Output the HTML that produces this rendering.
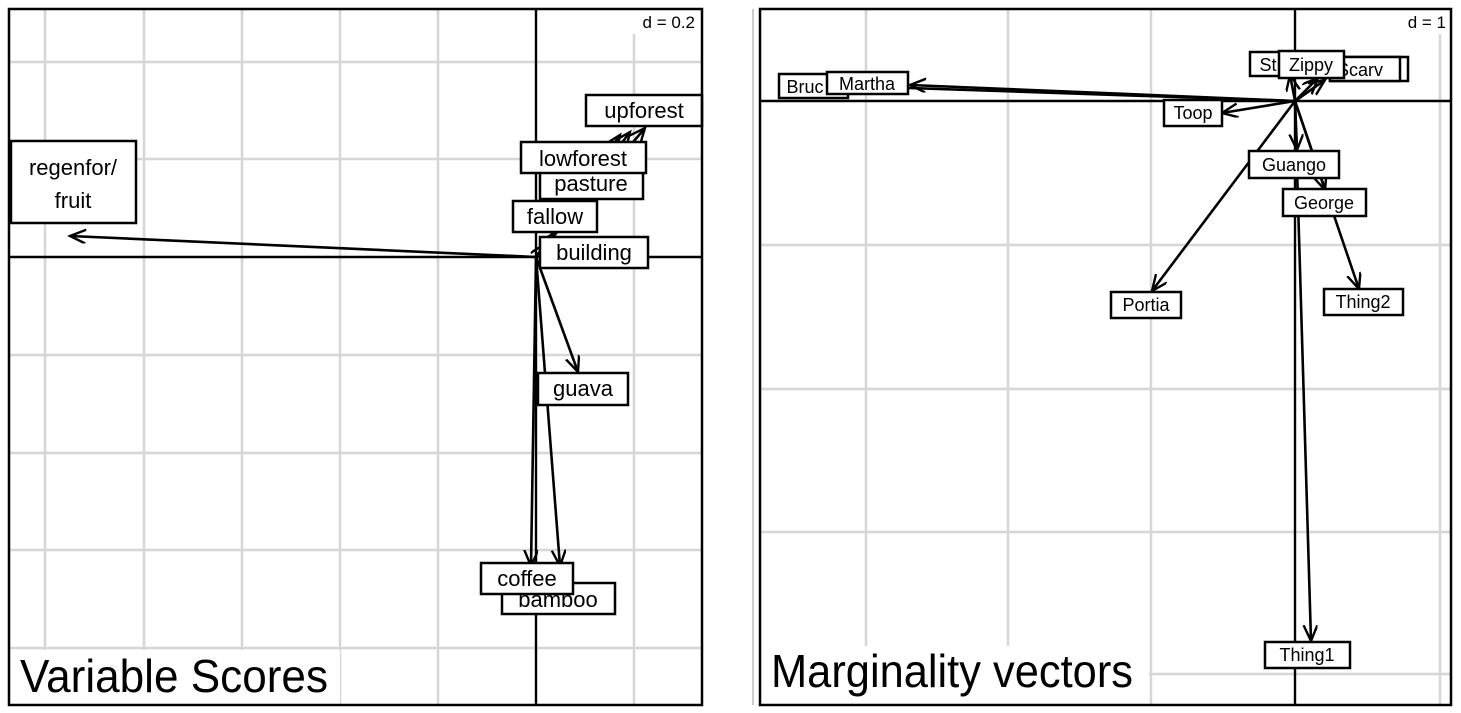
<!DOCTYPE html>
<html><head><meta charset="utf-8"><style>
html,body{margin:0;padding:0;background:#fff;}
svg{display:block;}
</style></head><body>
<svg width="1461" height="713" viewBox="0 0 1461 713" xmlns="http://www.w3.org/2000/svg">
<defs>
<marker id="ah" markerUnits="userSpaceOnUse" markerWidth="20" markerHeight="20" refX="16" refY="7" orient="auto">
<path d="M0,0 L16,7 L0,14" fill="none" stroke="#000" stroke-width="2.4"/>
</marker>
</defs>
<rect width="1461" height="713" fill="#fff"/>
<!-- LEFT PANEL -->
<g stroke="#d6d6d6" stroke-width="2.5">
<line x1="45" y1="9" x2="45" y2="704"/><line x1="144" y1="9" x2="144" y2="704"/><line x1="242" y1="9" x2="242" y2="704"/><line x1="340" y1="9" x2="340" y2="704"/><line x1="438" y1="9" x2="438" y2="704"/><line x1="634" y1="9" x2="634" y2="704"/>
<line x1="9" y1="62" x2="702" y2="62"/><line x1="9" y1="159" x2="702" y2="159"/><line x1="9" y1="355" x2="702" y2="355"/><line x1="9" y1="453" x2="702" y2="453"/><line x1="9" y1="550" x2="702" y2="550"/><line x1="9" y1="648" x2="702" y2="648"/>
</g>
<rect x="10" y="650" width="330" height="54" fill="#fff"/>
<rect x="610" y="10" width="90" height="24" fill="#fff"/>
<g stroke="#000" stroke-width="2.4">
<line x1="536" y1="9" x2="536" y2="704"/><line x1="9" y1="257" x2="702" y2="257"/>
</g>
<g stroke="#000" stroke-width="2.6" fill="none" marker-end="url(#ah)">
<line x1="536" y1="257" x2="70" y2="236"/>
<line x1="536" y1="257" x2="645" y2="128"/>
<line x1="536" y1="257" x2="630" y2="132"/>
<line x1="536" y1="257" x2="620" y2="135"/>
<line x1="536" y1="257" x2="555" y2="233"/>
<line x1="536" y1="257" x2="545" y2="244"/>
<line x1="536" y1="257" x2="578" y2="372"/>
<line x1="536" y1="257" x2="531" y2="566"/>
<line x1="536" y1="257" x2="560" y2="566"/>
</g>
<g font-family="'Liberation Sans',sans-serif" font-size="22" text-anchor="middle">
<rect x="11" y="141" width="125" height="82" fill="#fff" stroke="#000" stroke-width="2.5"/>
<text x="73" y="175">regenfor/</text><text x="73" y="208">fruit</text>
<rect x="586" y="95" width="116" height="31" fill="#fff" stroke="#000" stroke-width="2.5"/><text x="644" y="118">upforest</text>
<rect x="540" y="168" width="103" height="31" fill="#fff" stroke="#000" stroke-width="2.5"/><text x="591" y="191">pasture</text>
<rect x="521" y="142" width="125" height="31" fill="#fff" stroke="#000" stroke-width="2.5"/><text x="583" y="166">lowforest</text>
<rect x="513" y="201" width="84" height="31" fill="#fff" stroke="#000" stroke-width="2.5"/><text x="555" y="224">fallow</text>
<rect x="540" y="237" width="108" height="31" fill="#fff" stroke="#000" stroke-width="2.5"/><text x="594" y="260">building</text>
<rect x="538" y="373" width="90" height="32" fill="#fff" stroke="#000" stroke-width="2.5"/><text x="583" y="396">guava</text>
<rect x="502" y="583" width="113" height="31" fill="#fff" stroke="#000" stroke-width="2.5"/><text x="558" y="607">bamboo</text>
<rect x="481" y="563" width="92" height="31" fill="#fff" stroke="#000" stroke-width="2.5"/><text x="527" y="586">coffee</text>
</g>
<text x="695" y="28" font-family="'Liberation Sans',sans-serif" font-size="17" text-anchor="end">d = 0.2</text>
<text x="20" y="692" font-family="'Liberation Sans',sans-serif" font-size="46" textLength="308" lengthAdjust="spacingAndGlyphs">Variable Scores</text>
<rect x="9" y="9" width="693" height="696" fill="none" stroke="#000" stroke-width="2.5"/>

<!-- RIGHT PANEL -->
<line x1="753" y1="9" x2="753" y2="705" stroke="#bbb" stroke-width="1.5"/>
<g stroke="#d6d6d6" stroke-width="2.5">
<line x1="866" y1="9" x2="866" y2="704"/><line x1="1008" y1="9" x2="1008" y2="704"/><line x1="1151" y1="9" x2="1151" y2="704"/><line x1="1440" y1="9" x2="1440" y2="704"/>
<line x1="760" y1="245" x2="1451" y2="245"/><line x1="760" y1="389" x2="1451" y2="389"/><line x1="760" y1="532" x2="1451" y2="532"/><line x1="760" y1="674" x2="1451" y2="674"/>
</g>
<rect x="761" y="646" width="388" height="58" fill="#fff"/>
<rect x="1430" y="10" width="20" height="24" fill="#fff"/>
<g stroke="#000" stroke-width="2.4">
<line x1="1295" y1="9" x2="1295" y2="704"/><line x1="760" y1="101" x2="1451" y2="101"/>
</g>
<g stroke="#000" stroke-width="2.6" fill="none" marker-end="url(#ah)">
<line x1="1295" y1="101" x2="850" y2="86"/>
<line x1="1295" y1="101" x2="910" y2="85"/>
<line x1="1295" y1="101" x2="1222" y2="113"/>
<line x1="1295" y1="101" x2="1318" y2="78"/>
<line x1="1295" y1="101" x2="1325" y2="80"/>
<line x1="1295" y1="101" x2="1290" y2="75"/>
<line x1="1295" y1="101" x2="1297" y2="150"/>
<line x1="1295" y1="101" x2="1325" y2="190"/>
<line x1="1295" y1="101" x2="1359" y2="289"/>
<line x1="1295" y1="101" x2="1152" y2="291"/>
<line x1="1295" y1="101" x2="1311" y2="641"/>
</g>
<g font-family="'Liberation Sans',sans-serif" font-size="18" text-anchor="middle">
<rect x="779" y="74" width="69" height="24" fill="#fff" stroke="#000" stroke-width="2.5"/><text x="805" y="93">Bruc</text>
<rect x="827" y="72" width="81" height="22" fill="#fff" stroke="#000" stroke-width="2.5"/><text x="867" y="90">Martha</text>
<rect x="1164" y="100" width="58" height="26" fill="#fff" stroke="#000" stroke-width="2.5"/><text x="1193" y="119">Toop</text>
<rect x="1330" y="57" width="78" height="24" fill="#fff" stroke="#000" stroke-width="2.5"/>
<rect x="1330" y="57" width="70" height="24" fill="#fff" stroke="#000" stroke-width="2.5"/><text x="1360" y="76">Scarv</text>
<rect x="1250" y="52" width="80" height="24" fill="#fff" stroke="#000" stroke-width="2.5"/><text x="1268" y="71">St</text>
<rect x="1279" y="51" width="65" height="27" fill="#fff" stroke="#000" stroke-width="2.5"/><text x="1311" y="71">Zippy</text>
<rect x="1249" y="151" width="90" height="27" fill="#fff" stroke="#000" stroke-width="2.5"/><text x="1294" y="171">Guango</text>
<rect x="1283" y="189" width="83" height="27" fill="#fff" stroke="#000" stroke-width="2.5"/><text x="1324" y="209">George</text>
<rect x="1324" y="289" width="79" height="26" fill="#fff" stroke="#000" stroke-width="2.5"/><text x="1363" y="308">Thing2</text>
<rect x="1111" y="292" width="70" height="26" fill="#fff" stroke="#000" stroke-width="2.5"/><text x="1146" y="311">Portia</text>
<rect x="1265" y="642" width="85" height="26" fill="#fff" stroke="#000" stroke-width="2.5"/><text x="1307" y="661">Thing1</text>
</g>
<text x="1446" y="28" font-family="'Liberation Sans',sans-serif" font-size="17" text-anchor="end">d = 1</text>
<text x="771" y="687" font-family="'Liberation Sans',sans-serif" font-size="46" textLength="362" lengthAdjust="spacingAndGlyphs">Marginality vectors</text>
<rect x="760" y="9" width="691" height="696" fill="none" stroke="#000" stroke-width="2.5"/>
</svg>
</body></html>
